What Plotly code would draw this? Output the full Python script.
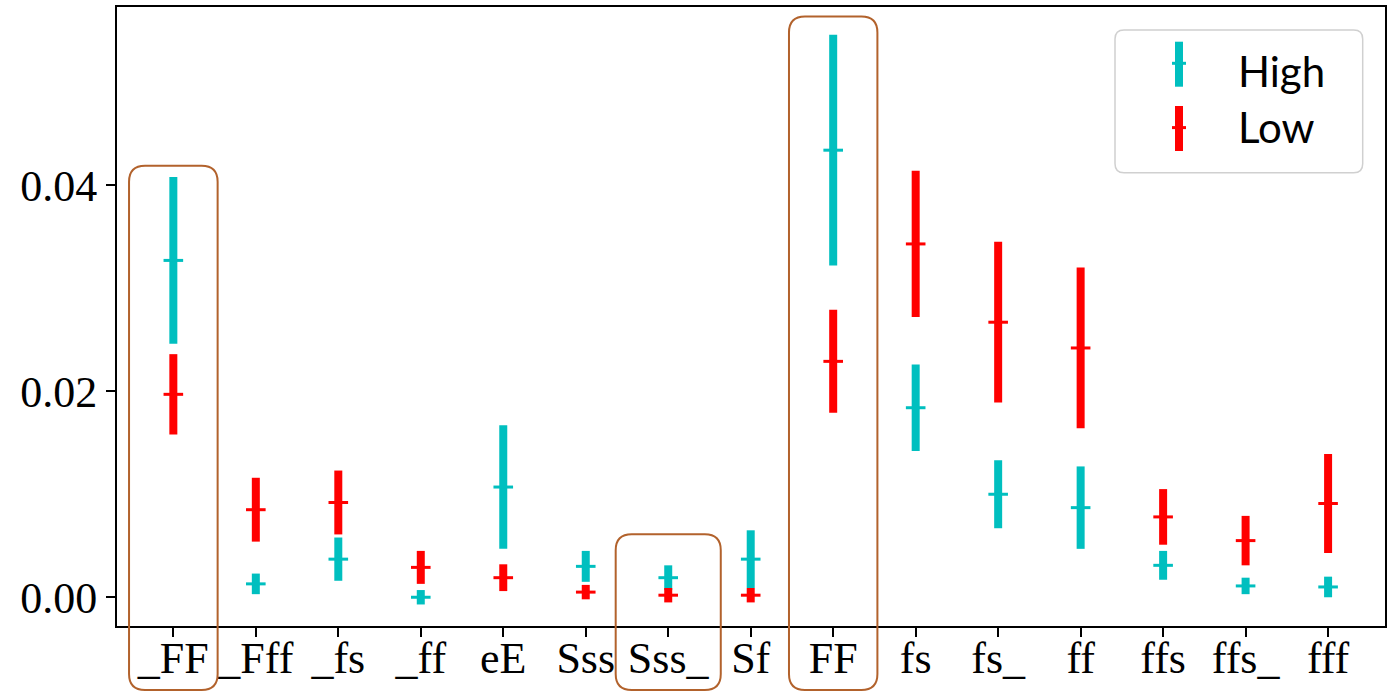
import plotly.graph_objects as go

# ---------------- data ----------------
categories = ["_FF", "_Fff", "_fs", "_ff", "eE", "Sss", "Sss_", "Sf",
              "FF", "fs", "fs_", "ff", "ffs", "ffs_", "fff"]

high_mean = [0.0327, 0.0013, 0.0037, 0.0000, 0.0107, 0.0030, 0.0019, 0.0037,
             0.0434, 0.0184, 0.0100, 0.0087, 0.0031, 0.0011, 0.0010]
high_err = [0.0081, 0.0010, 0.0021, 0.0007, 0.0060, 0.0015, 0.0012, 0.0028,
            0.0112, 0.0042, 0.0033, 0.0040, 0.0014, 0.0008, 0.0010]

low_mean = [0.0197, 0.0085, 0.0092, 0.0029, 0.0019, 0.0005, 0.0002, 0.0002,
            0.0229, 0.0343, 0.0267, 0.0242, 0.0078, 0.0055, 0.0091]
low_err = [0.0039, 0.0031, 0.0031, 0.0016, 0.0013, 0.0007, 0.0007, 0.0007,
           0.0050, 0.0071, 0.0078, 0.0078, 0.0027, 0.0024, 0.0048]

series_names = ["High", "Low"]
y_tick_vals = [0.00, 0.02, 0.04]

# highlighted categories: (category, half width in category units, top value)
highlights = [("_FF", 0.537, 0.0419), ("Sss_", 0.637, 0.00612), ("FF", 0.536, 0.05637)]

# ---------------- styling / layout ----------------
W, H = 1392, 692
ML, MR, MT, MB = 117, 7, 7, 66
XR = [-0.683, 14.69]
YR = [-0.00279, 0.0573]
CYAN = "#00BFBF"
RED = "#FF0000"
BROWN = "#B2622C"

xs = list(range(len(categories)))

fig = go.Figure()
for name, mean, err, col in [(series_names[0], high_mean, high_err, CYAN),
                             (series_names[1], low_mean, low_err, RED)]:
    fig.add_trace(go.Scatter(
        x=xs, y=mean, mode="markers", name=name, showlegend=False,
        marker=dict(symbol="line-ew", size=14, color=col,
                    line=dict(color=col, width=3)),
        error_y=dict(type="data", array=err, visible=True,
                     thickness=8, width=0, color=col),
    ))

pw = W - ML - MR
ph = H - MT - MB


def px_x(v):
    return (v - XR[0]) / (XR[1] - XR[0])


def px_y(v):
    return (v - YR[0]) / (YR[1] - YR[0])


def rrect(x0, x1, yb, yt, r_px):
    rx = r_px / pw
    ry = r_px / ph
    return (f"M {x0+rx},{yt} L {x1-rx},{yt} Q {x1},{yt} {x1},{yt-ry} "
            f"L {x1},{yb+ry} Q {x1},{yb} {x1-rx},{yb} L {x0+rx},{yb} "
            f"Q {x0},{yb} {x0},{yb+ry} L {x0},{yt-ry} Q {x0},{yt} {x0+rx},{yt} Z")


shapes = []
bottom_paper = -(690 - (H - MB)) / ph
for cat, hw, top in highlights:
    i = categories.index(cat)
    x0, x1 = px_x(i - hw), px_x(i + hw)
    shapes.append(dict(type="path", xref="paper", yref="paper",
                       path=rrect(x0, x1, bottom_paper, px_y(top), 16),
                       line=dict(color=BROWN, width=2), fillcolor="rgba(0,0,0,0)",
                       layer="above"))


# custom legend (paper coordinates from pixel positions)
def fx(p):
    return (p - ML) / pw


def fy(p):
    return (H - MB - p) / ph


shapes.append(dict(type="path", xref="paper", yref="paper",
                   path=rrect(fx(1115), fx(1362.7), fy(172.7), fy(30), 9),
                   line=dict(color="#D0D0D0", width=1.5), fillcolor="white",
                   layer="above"))
annotations = []
for k, (name, col) in enumerate(zip(series_names, [CYAN, RED])):
    top = 41.7 + k * 64.3
    bot = top + 45
    mid = top + 21.6
    shapes.append(dict(type="line", xref="paper", yref="paper",
                       x0=fx(1179), x1=fx(1179), y0=fy(top), y1=fy(bot),
                       line=dict(color=col, width=8), layer="above"))
    shapes.append(dict(type="line", xref="paper", yref="paper",
                       x0=fx(1172), x1=fx(1186), y0=fy(mid), y1=fy(mid),
                       line=dict(color=col, width=3), layer="above"))
    annotations.append(dict(xref="paper", yref="paper", x=fx(1236), y=fy(71 + k * 56),
                            text=name, showarrow=False, xanchor="left", yanchor="middle",
                            font=dict(family="Lato", size=42, color="black")))

fig.update_layout(
    width=W, height=H,
    margin=dict(l=ML, r=MR, t=MT, b=MB, pad=0, autoexpand=False),
    paper_bgcolor="white", plot_bgcolor="white",
    shapes=shapes, annotations=annotations,
    showlegend=False,
)
fig.update_xaxes(
    range=XR, tickmode="array", tickvals=xs, ticktext=categories,
    showgrid=False, zeroline=False, showline=True, mirror=True, automargin=False,
    linecolor="black", linewidth=2, ticks="outside", ticklen=9, tickwidth=2,
    tickcolor="black", ticklabelstandoff=-17,
    tickfont=dict(family="Liberation Serif", size=44, color="black"),
)
fig.update_yaxes(
    range=YR, tickmode="array", tickvals=y_tick_vals,
    ticktext=[f"{v:.2f}" for v in y_tick_vals],
    showgrid=False, zeroline=False, showline=True, mirror=True, automargin=False,
    linecolor="black", linewidth=2, ticks="outside", ticklen=9, tickwidth=2,
    tickcolor="black",
    tickfont=dict(family="Liberation Serif", size=44, color="black"),
)

fig.write_html("out.html")
